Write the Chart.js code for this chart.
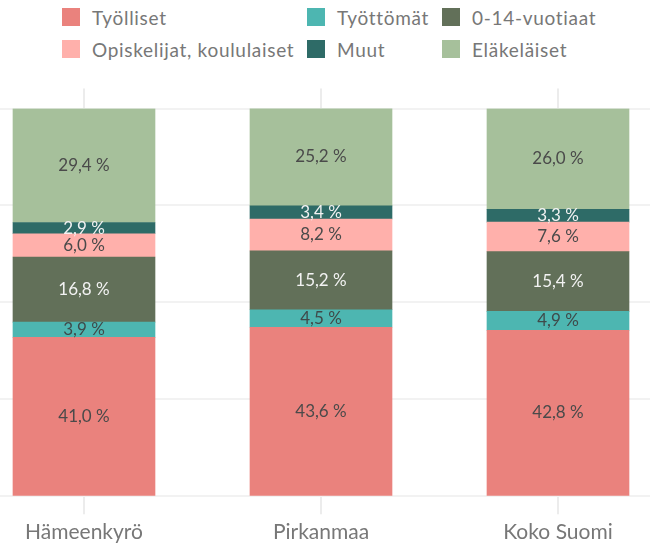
<!DOCTYPE html>
<html>
<head>
<meta charset="utf-8">
<script src="https://cdn.jsdelivr.net/npm/chart.js@4"></script>
<style>
    body { margin: 0; background: #fff; font-family: Lato, sans-serif; }
    #wrap { position: relative; width: 650px; height: 547px; overflow: hidden; }
    #legend {
        position: absolute; left: 62px; top: 8px;
        display: grid; grid-template-columns: 245px 135px auto; row-gap: 14px;
    }
    .item { display: flex; align-items: center; height: 18px; font-size: 19px; letter-spacing: 0.7px; color: #777; white-space: nowrap; }
    .box { width: 18px; height: 18px; margin-right: 12px; flex: none; }
    canvas { position: absolute; left: 0; top: 0; }
</style>
</head>
<body>
<div id="wrap">
    <div id="legend"></div>
    <canvas id="popChart" width="650" height="547"></canvas>
</div>
<script>
// areas on the x axis
const categories = ["Hämeenkyrö", "Pirkanmaa", "Koko Suomi"];

// series, bottom to top of the stack (%)
const seriesNames = ["Työlliset", "Työttömät", "0-14-vuotiaat", "Opiskelijat, koululaiset", "Muut", "Eläkeläiset"];
const tyolliset   = [41.0, 43.6, 42.8];
const tyottomat   = [3.9, 4.5, 4.9];
const lapset      = [16.8, 15.2, 15.4];
const opiskelijat = [6.0, 8.2, 7.6];
const muut        = [2.9, 3.4, 3.3];
const elakelaiset = [29.4, 25.2, 26.0];

const yTicks = [0, 25, 50, 75, 100];

const seriesValues = [tyolliset, tyottomat, lapset, opiskelijat, muut, elakelaiset];
const colors = ["#ea827d", "#4db6b1", "#627059", "#ffb0ab", "#2e6b67", "#a6c09b"];
const labelColors = ["#4a4a4a", "#3f4a4a", "#f2f2f2", "#4a4a4a", "#f2f2f2", "#4a4a4a"];

// html legend, 3 columns
const legend = document.getElementById("legend");
seriesNames.forEach((name, i) => {
    const div = document.createElement("div");
    div.className = "item";
    div.innerHTML = `<span class="box" style="background:${colors[i]}"></span>${name}`;
    legend.appendChild(div);
});

const fmt = v => v.toFixed(1).replace(".", ",") + " %";

const valueLabels = {
    id: "valueLabels",
    afterDatasetsDraw(chart) {
        const ctx = chart.ctx;
        ctx.save();
        ctx.font = "17px Lato";
        ctx.textAlign = "center";
        ctx.textBaseline = "middle";
        chart.data.datasets.forEach((ds, di) => {
            const meta = chart.getDatasetMeta(di);
            ctx.fillStyle = labelColors[di];
            meta.data.forEach((bar, i) => {
                ctx.fillText(fmt(ds.data[i].y), bar.x, (bar.y + bar.base) / 2);
            });
        });
        ctx.restore();
    }
};

// x is linear so the bars sit where they do in the picture
const xMin = -0.3544;
const xMax = 2.3882;
const catTicks = axis => { axis.ticks = categories.map((c, i) => ({ value: i })); };

new Chart(document.getElementById("popChart"), {
    type: "bar",
    data: {
        datasets: seriesNames.map((name, i) => ({
            label: name,
            data: seriesValues[i].map((v, j) => ({ x: j, y: v })),
            backgroundColor: colors[i],
            barThickness: 142
        }))
    },
    options: {
        responsive: false,
        animation: false,
        layout: { padding: { top: 88.5, bottom: -2.5, left: 0, right: 0 } },
        plugins: { legend: { display: false }, tooltip: { enabled: false } },
        scales: {
            x: {
                type: "linear",
                stacked: true,
                min: xMin, max: xMax, bounds: "data",
                offset: false,
                afterBuildTicks: catTicks,
                grid: { offset: false, drawOnChartArea: false, tickLength: 18, color: "#ececec", lineWidth: 2 },
                border: { display: false },
                ticks: {
                    callback: v => categories[v],
                    font: { family: "Lato", size: 21 },
                    color: "#777",
                    padding: 5,
                    maxRotation: 0,
                    autoSkip: false
                }
            },
            xTop: {
                type: "linear",
                position: "top",
                min: xMin, max: xMax, bounds: "data",
                offset: false,
                afterBuildTicks: catTicks,
                grid: { offset: false, drawOnChartArea: false, tickLength: 20, color: "#ececec", lineWidth: 2 },
                border: { display: false },
                ticks: { display: false }
            },
            y: {
                stacked: true,
                min: 0, max: 100,
                afterBuildTicks: axis => { axis.ticks = yTicks.map(v => ({ value: v })); },
                grid: { color: "#f2f2f2", lineWidth: 2, drawTicks: false },
                border: { display: false },
                ticks: { display: false }
            }
        }
    },
    plugins: [valueLabels]
});
</script>
</body>
</html>
